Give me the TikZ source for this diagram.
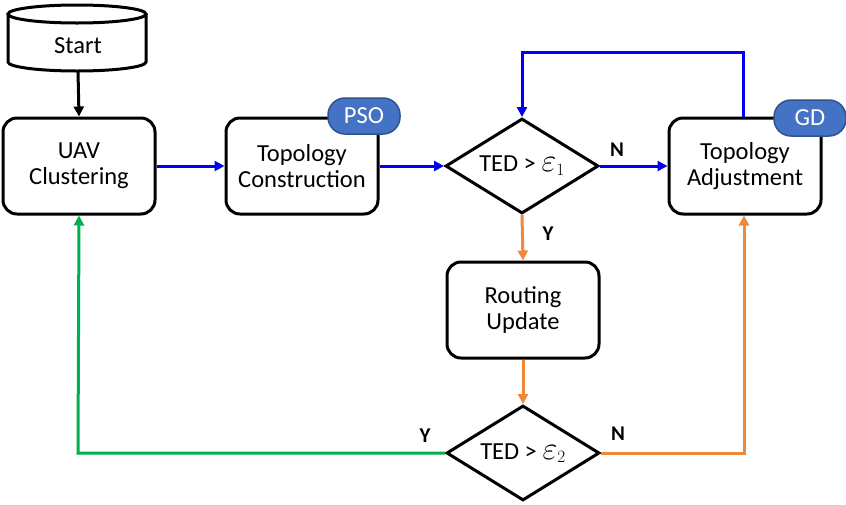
\documentclass[tikz,border=0pt]{standalone}
\usepackage{fontspec}
\usepackage{graphicx}
\setmainfont{Carlito}
\usetikzlibrary{shapes.geometric,arrows.meta}
\definecolor{cblue}{RGB}{0,0,240}
\definecolor{corange}{RGB}{240,136,58}
\definecolor{cgreen}{RGB}{0,176,80}
\definecolor{pillfill}{RGB}{68,114,196}
\definecolor{pilldraw}{RGB}{47,82,143}
\newcommand{\myeps}[1]{$\scalebox{1.3}{$\varepsilon$}_{#1}$}
\begin{document}
\begin{tikzpicture}[x=1pt,y=-1pt,
  font=\fontsize{24.5}{26}\selectfont,
  box/.style={draw=black,line width=3pt,rounded corners=14pt,minimum width=152pt,minimum height=96pt,inner sep=0pt,align=center,fill=white},
  dia/.style={draw=black,line width=3pt,shape=diamond,shape aspect=1.61,minimum width=153pt,minimum height=95pt,inner sep=-6pt,align=center,fill=white},
  pill/.style={draw=pilldraw,line width=1.5pt,fill=pillfill,rounded corners=17pt,minimum width=72pt,minimum height=36pt,inner sep=0pt,text=white},
  arr/.style={line width=3pt,-{Triangle[length=10pt,width=10pt]}},
  lbl/.style={font=\fontsize{21}{24}\selectfont\bfseries}
]
\useasboundingbox (0,0) rectangle (846,504);
% Start cylinder
\fill[white] (8,14) -- (8,62) arc[start angle=180,end angle=0,x radius=69,y radius=9] -- (146,14) -- cycle;
\draw[line width=3pt] (8,14) -- (8,62) arc[start angle=180,end angle=0,x radius=69,y radius=9] -- (146,14);
\draw[line width=3pt] (77,14) ellipse[x radius=69,y radius=9];
\node (start) at (78,46) {Start};
\coordinate (stb) at (78,71);

\node[box] (uav) at (79,166) {UAV\\Clustering};
\node[box] (tc) at (302,166) {Topology\\Construction};
\node[pill] (pso) at (364,116) {PSO};
\node[dia] (d1) at (522,166) {TED > \myeps{1}};
\node[box] (ta) at (745,166) {Topology\\Adjustment};
\node[pill] (gd) at (810,118) {GD};
\node[box] (ru) at (523,310) {Routing\\Update};
\node[dia] (d2) at (523,453) {TED > \myeps{2}};

\draw[arr,black] (stb) -- (uav.north);
\draw[arr,cblue] (uav.east) -- (tc.west);
\draw[arr,cblue] (tc.east) -- (d1.west);
\draw[arr,cblue] (d1.east) -- (ta.west);
\node[lbl] (n1) at (617,150) {N};
\draw[arr,cblue] (ta.north -| 743,0) -- (743,52) -- (522,52) -- (d1.north);
\draw[arr,corange] (d1.south) -- (ru.north);
\node[lbl] (y1) at (548,234) {Y};
\draw[arr,corange] (ru.south) -- (d2.north);
\draw[arr,cgreen] (d2.west) -- (78,453) -- (uav.south);
\node[lbl] (ylbl) at (425,436) {Y};
\draw[arr,corange] (d2.east) -- (744,453) -- (ta.south -| 744,0);
\node[lbl] (nlbl) at (618,434) {N};
\end{tikzpicture}
\end{document}
